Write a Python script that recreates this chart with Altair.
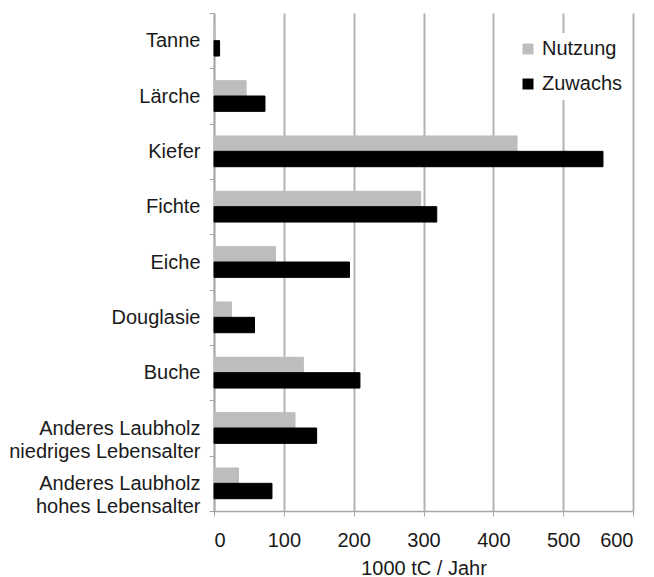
import altair as alt
import pandas as pd

categories = ["Tanne", "Lärche", "Kiefer", "Fichte", "Eiche", "Douglasie", "Buche",
              "Anderes Laubholz\nniedriges Lebensalter",
              "Anderes Laubholz\nhohes Lebensalter"]
nutzung = [2, 46, 434, 296, 88, 25, 128, 116, 35]
zuwachs = [8, 73, 557, 319, 194, 58, 209, 147, 83]
series = ["Nutzung", "Zuwachs"]
x_ticks = [0, 100, 200, 300, 400, 500, 600]

rows = []
for c, n, z in zip(categories, nutzung, zuwachs):
    rows.append({"Art": c, "Serie": series[0], "Wert": n})
    rows.append({"Art": c, "Serie": series[1], "Wert": z})
df = pd.DataFrame(rows)

FONT = "Liberation Sans"
TXT = "#1a1a1a"
AXC = "#a6a6a6"

# two-line labels: pad the shorter first line (figure spaces) so it sits centred
PAD_N = "\u2007\u2008"
PAD_H = "\u2008"
label_expr = (
    "indexof(datum.label, '\\n') >= 0 ? "
    "[split(datum.label, '\\n')[0] + (indexof(datum.label, 'niedriges') >= 0 ? '" + PAD_N + "' : '" + PAD_H + "'), "
    "split(datum.label, '\\n')[1]] : datum.label"
)

chart = alt.Chart(df).mark_bar(strokeWidth=1).encode(
    y=alt.Y("Art:N", sort=categories, title=None,
            scale=alt.Scale(paddingInner=0, paddingOuter=0),
            axis=alt.Axis(labelExpr=label_expr, tickBand="extent",
                          domainColor=AXC, tickColor=AXC, tickSize=5,
                          domainWidth=1.5, labelFontSize=20, labelColor=TXT,
                          labelPadding=9, labelFont=FONT, labelLineHeight=23,
                          labelLimit=400, grid=False)),
    yOffset=alt.YOffset("Serie:N", sort=series,
                        scale=alt.Scale(paddingOuter=0.8, paddingInner=0)),
    x=alt.X("Wert:Q", title="1000 tC / Jahr",
            scale=alt.Scale(domain=[0, 600], nice=False),
            axis=alt.Axis(values=x_ticks, grid=True, gridColor="#b3b3b3", gridWidth=2,
                          domainColor=AXC, tickColor=AXC, tickSize=5,
                          domainWidth=1.5, labelFontSize=20, labelColor=TXT,
                          labelFont=FONT, titleFont=FONT, titleFontSize=20,
                          titleFontWeight="normal", titleColor=TXT,
                          labelPadding=14, titlePadding=8)),
    color=alt.Color("Serie:N", sort=series,
                    scale=alt.Scale(domain=series, range=["#bdbdbd", "#000000"]),
                    legend=alt.Legend(title=None, orient="none", legendX=298, legendY=20,
                                      symbolType="square", symbolSize=120,
                                      labelFontSize=20, labelFont=FONT, labelColor=TXT,
                                      rowPadding=15, fillColor="white", padding=6,
                                      symbolStrokeWidth=0, labelOffset=4)),
    stroke=alt.Stroke("Serie:N", sort=series,
                      scale=alt.Scale(domain=series, range=["#bdbdbd", "#000000"]),
                      legend=None),
).properties(width=419, height=498,
             autosize=alt.AutoSizeParams(type="none"),
             padding={"left": 206, "top": 5, "right": 13, "bottom": 72}
).configure_view(stroke=None)

chart.save("out.html", embed_options={"renderer": "svg", "actions": False})
